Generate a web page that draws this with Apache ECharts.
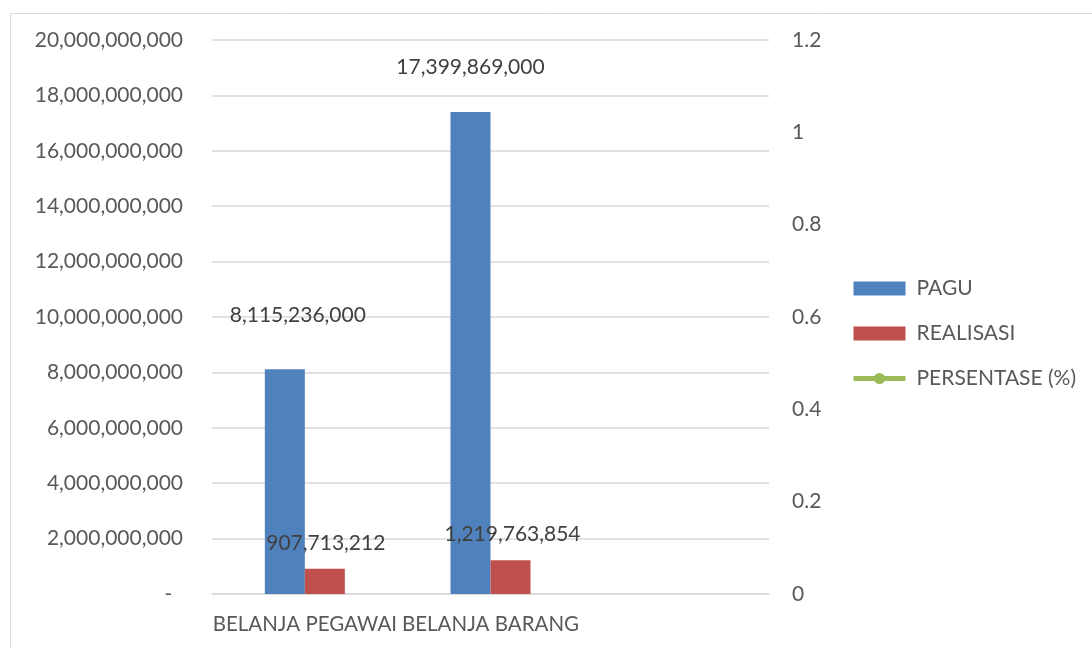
<!DOCTYPE html>
<html>
<head>
<meta charset="utf-8">
<script src="https://cdn.jsdelivr.net/npm/echarts@6/dist/echarts.min.js"></script>
<style>
html,body{margin:0;padding:0;background:#fff;}
#chart{width:1092px;height:648px;}
</style>
</head>
<body>
<div id="chart"></div>
<script>
const categories = ['BELANJA PEGAWAI', 'BELANJA BARANG', ''];
const pagu = [8115236000, 17399869000, null];
const realisasi = [907713212, 1219763854, null];
const persentase = [null, null, null];
const seriesNames = ['PAGU', 'REALISASI', 'PERSENTASE (%)'];

const FONT = 'Lato, "Open Sans", sans-serif';
const fmt = v => v == null ? '' : Number(v).toLocaleString('en-US');

const paguOffsets = [[13, -38], [0, -29], [0, 0]];
const realOffsets = [[1, -10], [2, -10], [0, 0]];

function withOffsets(vals, offs) {
  return vals.map((v, i) => ({ value: v, label: { offset: offs[i] } }));
}

const chart = echarts.init(document.getElementById('chart'));
chart.setOption({
  animation: false,
  graphic: [{
    type: 'rect', left: 8, top: 11,
    shape: { width: 1200, height: 700 },
    style: { fill: 'none', stroke: '#d9d9d9', lineWidth: 1 },
    silent: true
  }],
  grid: { left: 212, right: 323, top: 40, bottom: 54 },
  legend: {
    orient: 'vertical', left: 846, top: 273,
    itemWidth: 52, itemHeight: 14, itemGap: 24,
    textStyle: { fontFamily: FONT, fontSize: 21, color: '#595959', padding: [0, 0, 0, 6] },
    data: [
      { name: seriesNames[0], icon: 'rect' },
      { name: seriesNames[1], icon: 'rect' },
      { name: seriesNames[2], lineStyle: { width: 5, color: '#9bbb59' }, itemStyle: { color: '#9bbb59' }, symbolSize: 12 }
    ]
  },
  xAxis: {
    type: 'category', data: categories,
    axisLine: { show: true, lineStyle: { color: '#d9d9d9', width: 1.5 } },
    axisTick: { show: false },
    axisLabel: { fontFamily: FONT, fontSize: 20.5, color: '#595959', margin: 20, interval: 0 }
  },
  yAxis: [{
    type: 'value', min: 0, max: 20000000000, interval: 2000000000,
    axisLine: { show: false }, axisTick: { show: false },
    splitLine: { lineStyle: { color: '#d9d9d9', width: 1.5 } },
    axisLabel: {
      fontFamily: FONT, fontSize: 21, color: '#595959', margin: 29,
      formatter: v => v === 0 ? '-  ' : fmt(v)
    }
  }, {
    type: 'value', min: 0, max: 1.2, interval: 0.2,
    axisLine: { show: false }, axisTick: { show: false },
    splitLine: { show: false },
    axisLabel: {
      fontFamily: FONT, fontSize: 21, color: '#595959', margin: 23,
      formatter: v => String(Math.round(v * 10) / 10)
    }
  }],
  series: [{
    name: seriesNames[0], type: 'bar', yAxisIndex: 0,
    data: withOffsets(pagu, paguOffsets),
    barWidth: 40, barGap: '0%',
    itemStyle: { color: '#4f81bd' },
    label: { show: true, position: 'top', fontFamily: FONT, fontSize: 21, color: '#404040', formatter: p => fmt(p.value) }
  }, {
    name: seriesNames[1], type: 'bar', yAxisIndex: 0,
    data: withOffsets(realisasi, realOffsets),
    barWidth: 40, barGap: '0%',
    itemStyle: { color: '#c0504d' },
    label: { show: true, position: 'top', fontFamily: FONT, fontSize: 21, color: '#404040', formatter: p => fmt(p.value) }
  }, {
    name: seriesNames[2], type: 'line', yAxisIndex: 1,
    data: persentase,
    symbol: 'circle', symbolSize: 12,
    lineStyle: { color: '#9bbb59', width: 5 },
    itemStyle: { color: '#9bbb59' }
  }]
});
</script>
</body>
</html>
